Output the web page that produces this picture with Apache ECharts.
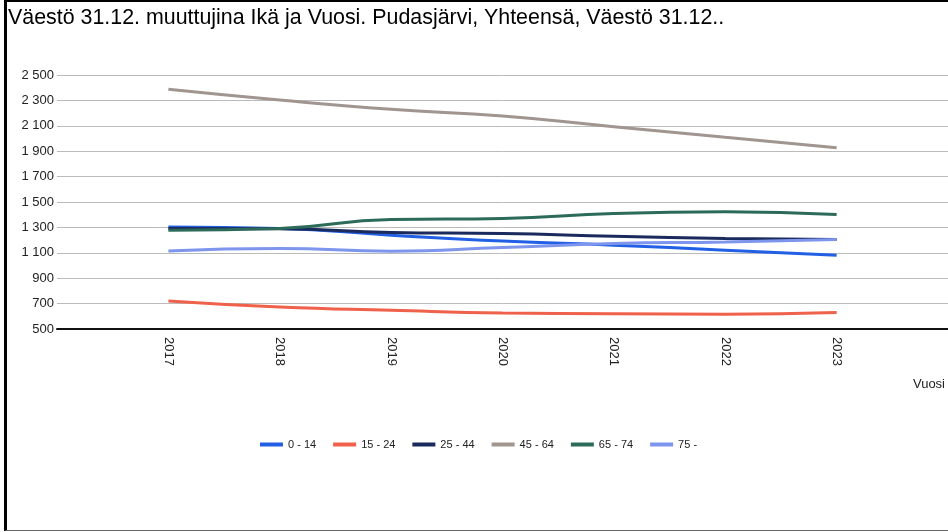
<!DOCTYPE html>
<html>
<head>
<meta charset="utf-8">
<script src="https://cdn.jsdelivr.net/npm/echarts@6/dist/echarts.min.js"></script>
<style>
html, body { margin: 0; padding: 0; background: #fff; }
#frame { position: absolute; left: 4px; top: 0; width: 944px; height: 531px;
         border-left: 3px solid #000; border-top: 2px solid #000; border-bottom: 1px solid #666;
         box-sizing: border-box; }
#main { position: absolute; left: 0; top: 0; width: 948px; height: 532px; }
</style>
</head>
<body>
<div id="main"></div>
<div id="frame"></div>
<script>
var years = [2017, 2018, 2019, 2020, 2021, 2022, 2023];
var ageGroups = ['0 - 14', '15 - 24', '25 - 44', '45 - 64', '65 - 74', '75 -'];
var colors = ['#2160e4', '#f0614b', '#1b2a5c', '#a0958f', '#2c6a5a', '#7d95ec'];

var age0_14  = [1304, 1292, 1239, 1192, 1160, 1121, 1081];
var age15_24 = [721, 673, 647, 626, 621, 616, 629];
var age25_44 = [1292, 1290, 1260, 1252, 1231, 1213, 1205];
var age45_64 = [2388, 2303, 2230, 2177, 2093, 2009, 1927];
var age65_74 = [1278, 1292, 1363, 1371, 1410, 1423, 1402];
var age75    = [1115, 1134, 1113, 1142, 1173, 1186, 1205];
var allValues = [age0_14, age15_24, age25_44, age45_64, age65_74, age75];

var myChart = echarts.init(document.getElementById('main'));
var font = 'Liberation Sans, Arial, sans-serif';

function fmtThousands(v) {
    if (v >= 1000) {
        var rest = String(v % 1000);
        while (rest.length < 3) rest = '0' + rest;
        return Math.floor(v / 1000) + ' ' + rest;
    }
    return String(v);
}

var series = ageGroups.map(function (name, i) {
    return {
        name: name,
        type: 'line',
        smooth: true,
        showSymbol: false,
        color: colors[i],
        lineStyle: { width: 3 },
        data: years.map(function (y, j) { return [y, allValues[i][j]]; })
    };
});

option = {
    animation: false,
    title: {
        text: 'Väestö 31.12. muuttujina Ikä ja Vuosi. Pudasjärvi, Yhteensä, Väestö 31.12..',
        left: 8,
        top: 8,
        padding: 0,
        textStyle: { fontFamily: font, fontSize: 21.4, fontWeight: 'normal', color: '#000' }
    },
    legend: {
        data: ageGroups,
        left: 260,
        top: 439,
        padding: 0,
        icon: 'rect',
        itemWidth: 23,
        itemHeight: 4,
        itemGap: 17,
        textStyle: { fontFamily: font, fontSize: 11, color: '#222' }
    },
    grid: { left: 57, right: 0, top: 75, bottom: 203 },
    xAxis: {
        type: 'value',
        min: 2016,
        max: 2024,
        interval: 1,
        splitLine: { show: false },
        axisTick: { show: false },
        axisLine: { show: true, onZero: false, lineStyle: { color: '#111', width: 2 } },
        axisLabel: {
            rotate: -90,
            margin: 8,
            fontFamily: font,
            fontSize: 13,
            color: '#222',
            formatter: function (v) { return (v === 2016 || v === 2024) ? '' : String(v); }
        }
    },
    yAxis: {
        type: 'value',
        min: 500,
        max: 2500,
        interval: 200,
        axisLine: { show: false },
        axisTick: { show: false },
        splitLine: { lineStyle: { color: '#bbb', width: 1 } },
        axisLabel: { margin: 3, fontFamily: font, fontSize: 13, color: '#222', formatter: fmtThousands }
    },
    graphic: [{
        type: 'text',
        right: 3,
        top: 378,
        style: { text: 'Vuosi', fontFamily: font, fontSize: 13, fill: '#222' }
    }],
    series: series
};

myChart.setOption(option);
</script>
</body>
</html>
